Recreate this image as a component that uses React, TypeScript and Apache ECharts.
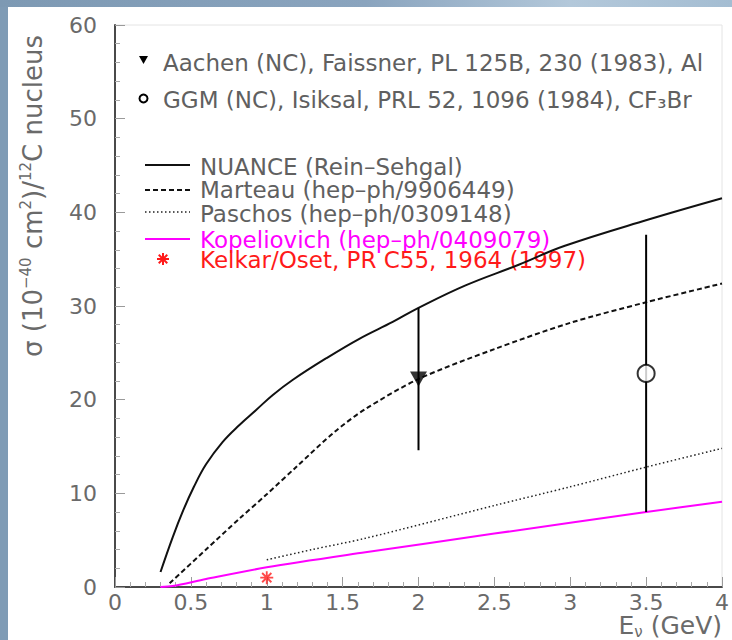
import React, { useEffect, useRef } from "react";
import * as echarts from "echarts";

// Model curves: neutrino energy (GeV) and cross section (1e-40 cm^2 per 12C nucleus)
const nuanceE = [0.3, 0.38, 0.45, 0.52, 0.6, 0.71, 0.82, 0.93, 1.04, 1.17, 1.39, 1.61, 1.83, 2.0, 2.31, 2.66, 2.96, 3.51, 4.0];
const nuanceSigma = [1.6, 5.3, 8.2, 10.7, 13.1, 15.5, 17.3, 18.9, 20.5, 22.1, 24.4, 26.5, 28.3, 29.8, 32.2, 34.4, 36.4, 39.2, 41.5];

const marteauE = [0.36, 0.6, 0.82, 1.0, 1.2, 1.45, 1.65, 2.0, 2.5, 3.0, 3.5, 4.0];
const marteauSigma = [0.4, 4.0, 7.3, 9.9, 12.9, 16.6, 19.0, 22.2, 25.4, 28.2, 30.4, 32.4];

const paschosE = [1.0, 1.3, 1.65, 2.5, 3.0, 3.5, 4.0];
const paschosSigma = [2.9, 4.0, 5.2, 8.7, 10.7, 12.8, 14.8];

const kopeliovichE = [0.3, 0.38, 0.6, 1.0, 1.65, 2.5, 3.5, 4.0];
const kopeliovichSigma = [0.0, 0.1, 0.85, 2.1, 3.7, 5.7, 8.0, 9.1];

// Measurements and single-point calculation
const aachenE = [2.0];
const aachenSigma = [22.2];
const aachenErr = [7.6];

const ggmE = [3.5];
const ggmSigma = [22.8];
const ggmErr = [14.8];

const kelkarE = [1.0];
const kelkarSigma = [1.0];

// Legend captions
const dataCaptions = [
  "Aachen (NC), Faissner, PL 125B, 230 (1983), Al",
  "GGM (NC), Isiksal, PRL 52, 1096 (1984), CF₃Br",
];
const curveCaptions = [
  "NUANCE (Rein–Sehgal)",
  "Marteau (hep–ph/9906449)",
  "Paschos (hep–ph/0309148)",
  "Kopeliovich (hep–ph/0409079)",
  "Kelkar/Oset, PR C55, 1964 (1997)",
];

const FONT = "DejaVu Sans";
const TEXT_GRAY = "#606060";
const AXIS_GRAY = "#6a6a6a";
const MAGENTA = "#ff00ff";
const RED = "#ff1a1a";
const LEGEND_SIZE = 23;

const STAR_PATH =
  "path://M-1.4,-10L1.4,-10L1.4,10L-1.4,10Z M-10,-1.4L10,-1.4L10,1.4L-10,1.4Z M-8.1,-6.1L-6.1,-8.1L8.1,6.1L6.1,8.1Z M6.1,-8.1L8.1,-6.1L-6.1,8.1L-8.1,6.1Z";

const pairs = (xs: number[], ys: number[]) => xs.map((x, i) => [x, ys[i]]);

const errorBarSeries = (xs: number[], ys: number[], errs: number[]) => ({
  type: "custom",
  data: xs.map((x, i) => [x, ys[i] - errs[i], ys[i] + errs[i]]),
  encode: { x: 0, y: [1, 2] },
  z: 3,
  renderItem: (_params: any, api: any) => {
    const lo = api.coord([api.value(0), api.value(1)]);
    const hi = api.coord([api.value(0), api.value(2)]);
    return {
      type: "line",
      shape: { x1: lo[0], y1: lo[1], x2: hi[0], y2: hi[1] },
      style: { stroke: "#000", lineWidth: 2 },
    };
  },
});

const legendLine = (y: number, stroke: string, lineDash: number[] | null, lineWidth: number) => ({
  type: "line",
  shape: { x1: 145, y1: y, x2: 190, y2: y },
  style: { stroke, lineWidth, lineDash: lineDash || undefined },
});

const legendText = (x: number, y: number, text: string, fill: string) => ({
  type: "text",
  x,
  y,
  style: {
    text,
    fill,
    font: `${LEGEND_SIZE}px "${FONT}"`,
    lineHeight: 20,
    textAlign: "left",
    textVerticalAlign: "middle",
  },
});

export default function App() {
  const ref = useRef<HTMLDivElement>(null);

  useEffect(() => {
    if (!ref.current) return;
    const chart = echarts.init(ref.current, undefined, { renderer: "svg" });

    const star = (cx: number, cy: number, r: number) => ({
      type: "group",
      x: cx,
      y: cy,
      children: [0, 45, 90, 135].map((deg) => {
        const a = (deg * Math.PI) / 180;
        return {
          type: "line",
          shape: { x1: -r * Math.cos(a), y1: -r * Math.sin(a), x2: r * Math.cos(a), y2: r * Math.sin(a) },
          style: { stroke: RED, lineWidth: 2 },
        };
      }),
    });

    chart.setOption({
      animation: false,
      backgroundColor: "#ffffff",
      grid: {
        left: 115,
        right: 8,
        top: 25,
        bottom: 53,
        show: true,
        borderColor: "#e4e4e4",
        borderWidth: 1,
        backgroundColor: "transparent",
      },
      xAxis: {
        type: "value",
        min: 0,
        max: 4,
        interval: 0.5,
        axisLine: { show: true, onZero: false, lineStyle: { color: "#4a4a4a", width: 2 } },
        axisTick: { show: true, inside: true, length: 10, lineStyle: { color: "#9a9a9a", width: 1 } },
        minorTick: { show: true, splitNumber: 5, length: 5, lineStyle: { color: "#a8a8a8", width: 1 } },
        splitLine: { show: false },
        axisLabel: { fontSize: 22, fontFamily: FONT, color: AXIS_GRAY, margin: 4 },
      },
      yAxis: {
        type: "value",
        min: 0,
        max: 60,
        interval: 10,
        axisLine: { show: true, onZero: false, lineStyle: { color: "#4a4a4a", width: 2 } },
        axisTick: { show: true, inside: true, length: 10, lineStyle: { color: "#9a9a9a", width: 1 } },
        minorTick: { show: true, splitNumber: 5, length: 5, lineStyle: { color: "#a8a8a8", width: 1 } },
        splitLine: { show: false },
        axisLabel: { fontSize: 22, fontFamily: FONT, color: AXIS_GRAY, margin: 18 },
      },
      series: [
        {
          name: curveCaptions[0],
          type: "line",
          data: pairs(nuanceE, nuanceSigma),
          smooth: 0.4,
          showSymbol: false,
          lineStyle: { color: "#111", width: 2 },
          z: 2,
        },
        {
          name: curveCaptions[1],
          type: "line",
          data: pairs(marteauE, marteauSigma),
          smooth: 0.3,
          showSymbol: false,
          lineStyle: { color: "#111", width: 2, type: [5, 3] },
          z: 2,
        },
        {
          name: curveCaptions[2],
          type: "line",
          data: pairs(paschosE, paschosSigma),
          smooth: 0.3,
          showSymbol: false,
          lineStyle: { color: "#222", width: 1.5, type: [1.5, 2.5] },
          z: 2,
        },
        {
          name: curveCaptions[3],
          type: "line",
          data: pairs(kopeliovichE, kopeliovichSigma),
          smooth: 0.3,
          showSymbol: false,
          lineStyle: { color: MAGENTA, width: 2 },
          z: 2,
        },
        {
          name: curveCaptions[4],
          type: "scatter",
          data: pairs(kelkarE, kelkarSigma),
          symbol: STAR_PATH,
          symbolSize: 13,
          itemStyle: { color: RED },
          z: 4,
        },
        errorBarSeries(aachenE, aachenSigma, aachenErr),
        errorBarSeries(ggmE, ggmSigma, ggmErr),
        {
          name: dataCaptions[0],
          type: "scatter",
          data: pairs(aachenE, aachenSigma),
          symbol: "triangle",
          symbolRotate: 180,
          symbolSize: [17, 15],
          itemStyle: { color: "#000" },
          z: 5,
        },
        {
          name: dataCaptions[1],
          type: "scatter",
          data: pairs(ggmE, ggmSigma),
          symbol: "circle",
          symbolSize: 17,
          itemStyle: { color: "#fff", borderColor: "#000", borderWidth: 2 },
          z: 5,
        },
      ],
      graphic: [
        // window frame strips
        {
          type: "rect",
          shape: { x: 0, y: 0, width: 8, height: 640 },
          style: { fill: "#7f9bb5" },
          z: 10,
        },
        {
          type: "rect",
          shape: { x: 0, y: 0, width: 732, height: 7 },
          style: {
            fill: new echarts.graphic.LinearGradient(0, 0, 1, 0, [
              { offset: 0, color: "#7d99b3" },
              { offset: 0.5, color: "#8aa4be" },
              { offset: 0.78, color: "#b3c8da" },
              { offset: 1, color: "#a4bdd2" },
            ]),
          },
          z: 10,
        },
        // axis titles
        {
          type: "text",
          x: 33,
          y: 357,
          rotation: Math.PI / 2,
          style: {
            text: "{m|σ (10}{s|−40}{m| cm}{s|2}{m|)/}{s|12}{m|C nucleus}",
            textAlign: "left",
            textVerticalAlign: "middle",
            rich: {
              m: { fontSize: 26, fontFamily: FONT, fill: AXIS_GRAY, lineHeight: 30 },
              s: { fontSize: 15, fontFamily: FONT, fill: AXIS_GRAY, lineHeight: 15, verticalAlign: "top" },
            },
          },
        },
        {
          type: "text",
          x: 722,
          y: 625,
          style: {
            text: "{m|E}{s|ν}{m| (GeV)}",
            textAlign: "right",
            textVerticalAlign: "middle",
            rich: {
              m: { fontSize: 25, fontFamily: FONT, fill: AXIS_GRAY, lineHeight: 28 },
              s: { fontSize: 15, fontFamily: FONT, fill: AXIS_GRAY, lineHeight: 15, verticalAlign: "bottom" },
            },
          },
        },
        // data legend
        {
          type: "polygon",
          shape: { points: [[139, 56], [148, 56], [143.5, 64]] },
          style: { fill: "#000" },
        },
        legendText(163, 63, dataCaptions[0], TEXT_GRAY),
        {
          type: "circle",
          shape: { cx: 143.5, cy: 98.5, r: 4 },
          style: { fill: "#fff", stroke: "#000", lineWidth: 2 },
        },
        legendText(163, 100, dataCaptions[1], TEXT_GRAY),
        // curve legend
        legendLine(165, "#111", null, 2),
        legendText(200, 166.5, curveCaptions[0], TEXT_GRAY),
        legendLine(190, "#111", [5, 3], 2),
        legendText(200, 190, curveCaptions[1], TEXT_GRAY),
        legendLine(212, "#222", [1.5, 2.5], 1.5),
        legendText(200, 214, curveCaptions[2], TEXT_GRAY),
        legendLine(239, MAGENTA, null, 2),
        legendText(200, 240, curveCaptions[3], MAGENTA),
        star(163, 259, 6),
        legendText(200, 259.5, curveCaptions[4], RED),
      ],
    });

    return () => chart.dispose();
  }, []);

  return (
    <div
      ref={ref}
      style={{ position: "fixed", left: 0, top: 0, width: 732, height: 640 }}
    />
  );
}
